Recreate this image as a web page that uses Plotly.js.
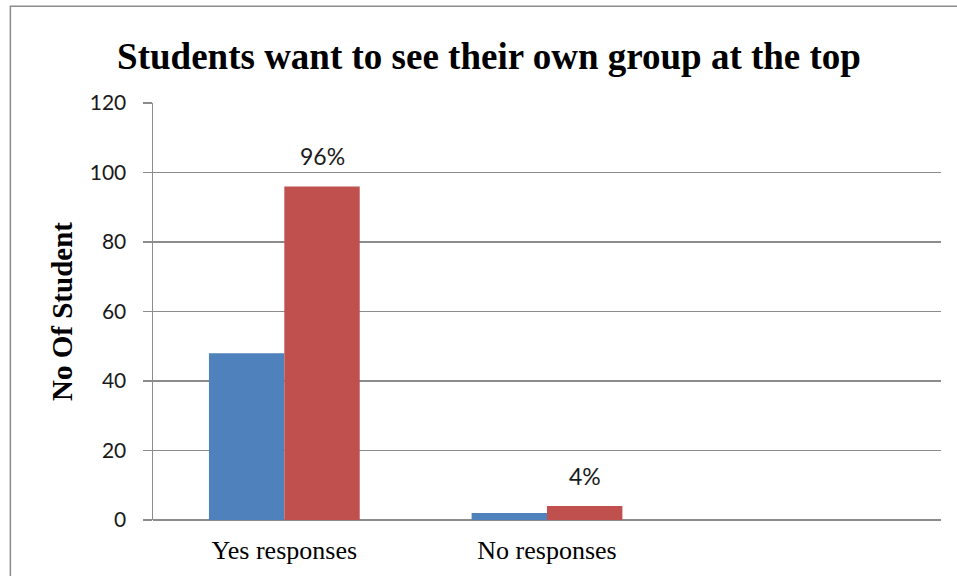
<!DOCTYPE html>
<html>
<head>
<meta charset="utf-8">
<script src="https://cdn.plot.ly/plotly-3.0.1.min.js"></script>
<style>html,body{margin:0;padding:0;background:#fff;}#chart{width:957px;height:576px;}</style>
</head>
<body>
<div id="chart"></div>
<script>
var categories = ["Yes responses", "No responses", " "];
var seriesBlue = [48, 2, null];
var seriesRed = [96, 4, null];
var redLabels = ["96%", "4%", ""];
var yTicks = [0, 20, 40, 60, 80, 100, 120];

var traces = [
  {type: "bar", x: categories, y: seriesBlue, marker: {color: "#4F81BD"}, hoverinfo: "none"},
  {type: "bar", x: categories, y: seriesRed, marker: {color: "#C0504D"}, hoverinfo: "none"}
];

// data labels placed above the red bars (offset to the red bar within the group)
var annotations = [];
for (var i = 0; i < categories.length; i++) {
  if (redLabels[i]) {
    annotations.push({x: categories[i], y: seriesRed[i], xref: "x", yref: "y",
      text: redLabels[i], showarrow: false, xanchor: "center", yanchor: "bottom",
      xshift: 38, yshift: 14,
      font: {family: "Lato, 'Open Sans', sans-serif", size: 23, color: "#1a1a1a"}});
  }
}

var layout = {
  width: 957, height: 576,
  margin: {l: 153, r: 16, t: 103, b: 56},
  paper_bgcolor: "#fff", plot_bgcolor: "#fff",
  showlegend: false,
  barmode: "group", bargap: 0.426, bargroupgap: 0,
  annotations: annotations,
  title: {text: "<b>Students want to see their own group at the top</b>",
          font: {family: "'Liberation Serif', 'Times New Roman', serif", size: 37, color: "#000"},
          x: 0.511, xanchor: "center", y: 0.903, yanchor: "middle", xref: "container", yref: "container"},
  xaxis: {type: "category", range: [-0.5, 2.5], showgrid: false, zeroline: false,
          showline: false, ticks: "", ticklabelstandoff: 12,
          tickfont: {family: "'Liberation Serif', 'Times New Roman', serif", size: 26, color: "#000"}},
  yaxis: {range: [0, 120], tickvals: yTicks, ticktext: yTicks.map(String),
          showgrid: true, gridcolor: "#8c8c8c", gridwidth: 1.5,
          zeroline: true, zerolinecolor: "#8c8c8c", zerolinewidth: 1.5,
          showline: true, linecolor: "#8c8c8c", linewidth: 1.5,
          ticks: "outside", ticklen: 9, tickcolor: "#8c8c8c", tickwidth: 1.5,
          ticklabelstandoff: 12,
          tickfont: {family: "Lato, 'Open Sans', sans-serif", size: 21, color: "#1a1a1a"},
          title: {text: "<b>No Of Student</b>", standoff: 8,
                  font: {family: "'Liberation Serif', 'Times New Roman', serif", size: 29, color: "#000"}}},
  shapes: [
    {type: "rect", xref: "paper", yref: "paper", x0: -0.181, x1: 1.05, y0: -0.2, y1: 1.232,
     line: {color: "#8c8c8c", width: 1.5}, fillcolor: "rgba(0,0,0,0)", layer: "below"}
  ]
};

Plotly.newPlot("chart", traces, layout, {displayModeBar: false, staticPlot: true});
</script>
</body>
</html>
